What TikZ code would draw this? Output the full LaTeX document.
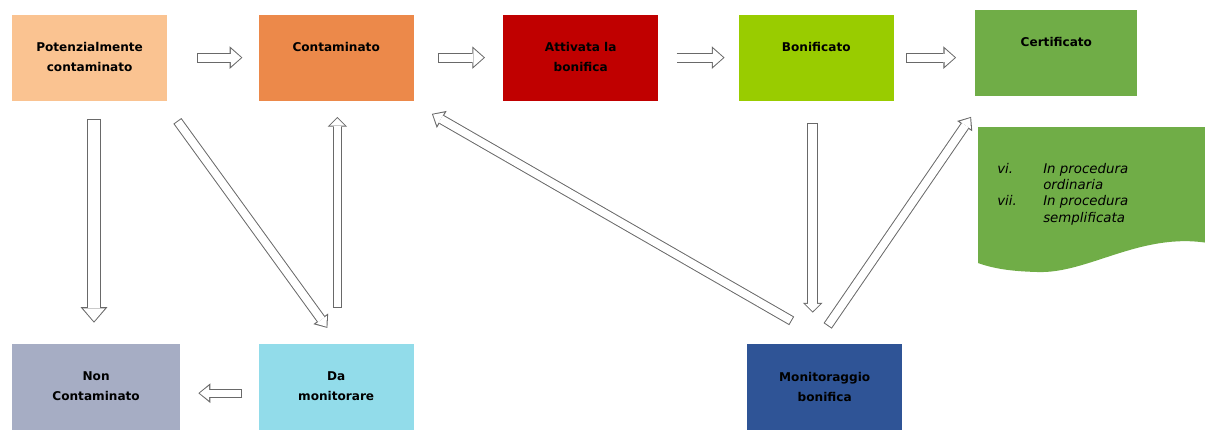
\documentclass[tikz,border=0pt]{standalone}
\usepackage{fontspec}
\setmainfont{DejaVu Sans}
\usepackage{xcolor}
\usepackage{tikz}
\usetikzlibrary{positioning, calc, arrows.meta}

\definecolor{potcol}{RGB}{250,195,145}
\definecolor{contcol}{RGB}{236,137,74}
\definecolor{attcol}{RGB}{192,0,0}
\definecolor{boncol}{RGB}{153,204,0}
\definecolor{certcol}{RGB}{112,173,71}
\definecolor{noncol}{RGB}{166,173,196}
\definecolor{damoncol}{RGB}{146,220,234}
\definecolor{moncol}{RGB}{47,84,150}
\definecolor{arrowgray}{RGB}{105,105,105}

\newcommand{\boxfont}{\bfseries\fontsize{8.6}{14}\selectfont}

\tikzset{
  box/.style={rectangle, minimum width=3.875cm, minimum height=2.15cm, inner sep=0pt},
  boxtext/.style={anchor=north, yshift=-0.7cm, inner sep=0pt, align=center, font=\boxfont, text=black},
  % hollow block arrow: shaft, head width, head length
  barrow/.code n args={3}{%
    \pgfmathsetlengthmacro\bshaft{#1-1.4pt}%
    \pgfmathsetlengthmacro\bheadw{#2-3.4pt}%
    \pgfmathsetlengthmacro\bheadl{#3-1.8pt}%
    \tikzset{draw=arrowgray, line width=#1,
      -{Triangle[length=#3, width=#2, line width=0pt]},
      postaction={draw=white, line width=\bshaft, shorten <=0.7pt, shorten >=1pt,
        -{Triangle[length=\bheadl, width=\bheadw, line width=0pt]}}}},
}

\begin{document}
\begin{tikzpicture}
    \useasboundingbox (0,0) rectangle (30.125,-10.725);

    \node[box, fill=potcol, label={[boxtext]north:Potenzialmente\\contaminato}] (pot) at (2.24,-1.44) {};
    \node[box, fill=contcol, label={[boxtext]north:Contaminato}] (cont) [right=2.275cm of pot] {};
    \node[box, fill=attcol, label={[boxtext]north:Attivata la\\bonifica}] (att) [right=2.225cm of cont] {};
    \node[box, fill=boncol, label={[boxtext]north:Bonificato}] (bon) [right=2cm of att] {};
    \node[box, fill=certcol, minimum width=4.05cm, label={[boxtext]north:Certificato}] (cert) [right=2.025cm of bon, yshift=0.125cm] {};

    \node[box, fill=damoncol, label={[boxtext]north:Da\\monitorare}] (damon) [below=6.075cm of cont] {};
    \node[box, fill=noncol, minimum width=4.2cm, label={[boxtext]north:Non\\Contaminato}] (non) [left=1.95cm of damon] {};
    \node[box, fill=moncol, label={[boxtext]north:Monitoraggio\\bonifica}] (mon) [below=6.075cm of bon, xshift=0.21cm] {};

    % note shape
    \fill[certcol] (24.45,-3.175) -- (30.2,-3.175) -- (30.2,-6.075)
        .. controls (28.5,-5.8) and (27.2,-6.85) .. (25.925,-6.8)
        .. controls (25.2,-6.78) and (24.8,-6.7) .. (24.45,-6.575) -- cycle;
    \node[anchor=north west, inner sep=0pt, font=\itshape\fontsize{9.5}{11.5}\selectfont] (notes) at (24.925,-4.05) {%
        \begin{tabular}{@{}p{1.15cm}@{}l@{}}
        vi. & In procedura\\
            & ordinaria\\
        vii. & In procedura\\
            & semplificata
        \end{tabular}};

    % top row
    \draw[barrow={7pt}{16pt}{9pt}] ($(pot.east)+(0.75,0)$) -- ($(cont.west)+(-0.4,0)$);
    \draw[barrow={7pt}{16pt}{9pt}] ($(cont.east)+(0.6,0)$) -- ($(att.west)+(-0.45,0)$);
    \draw[barrow={7pt}{16pt}{9pt}] ($(att.east)+(0.45,0)$) -- ($(bon.west)+(-0.35,0)$);
    \draw[barrow={7pt}{16pt}{9pt}] ($(bon.east)+(0.3,0)$) -- ($(bon.east -| cert.west)+(-0.475,0)$);

    % left part
    \draw[barrow={10pt}{19pt}{11pt}] ($(pot.south)+(0.11,-0.45)$) -- ($(pot.south |- non.north)+(0.11,0.53)$);
    \draw[barrow={7pt}{13pt}{8pt}] ($(pot.south east)+(0.25,-0.5)$) -- ($(damon.north)+(-0.22,0.4)$);
    \draw[barrow={6pt}{14pt}{7pt}] ($(damon.north)+(0.03,0.9)$) -- ($(cont.south)+(0.03,-0.4)$);
    \draw[barrow={6.5pt}{14pt}{8.5pt}] ($(damon.west)+(-0.4,-0.15)$) -- ($(damon.west -| non.east)+(0.45,-0.15)$);

    % right part
    \draw[barrow={7pt}{14pt}{8pt}] ($(mon.north)+(-0.825,0.575)$) -- ($(cont.south east)+(0.45,-0.325)$);
    \draw[barrow={8pt}{14pt}{7pt}] ($(bon.south)+(-0.09,-0.55)$) -- ($(bon.south |- mon.north)+(-0.09,0.78)$);
    \draw[barrow={7pt}{13pt}{8pt}] ($(mon.north)+(0.075,0.45)$) -- ($(cert.south west)+(-0.1,-0.525)$);
\end{tikzpicture}
\end{document}
